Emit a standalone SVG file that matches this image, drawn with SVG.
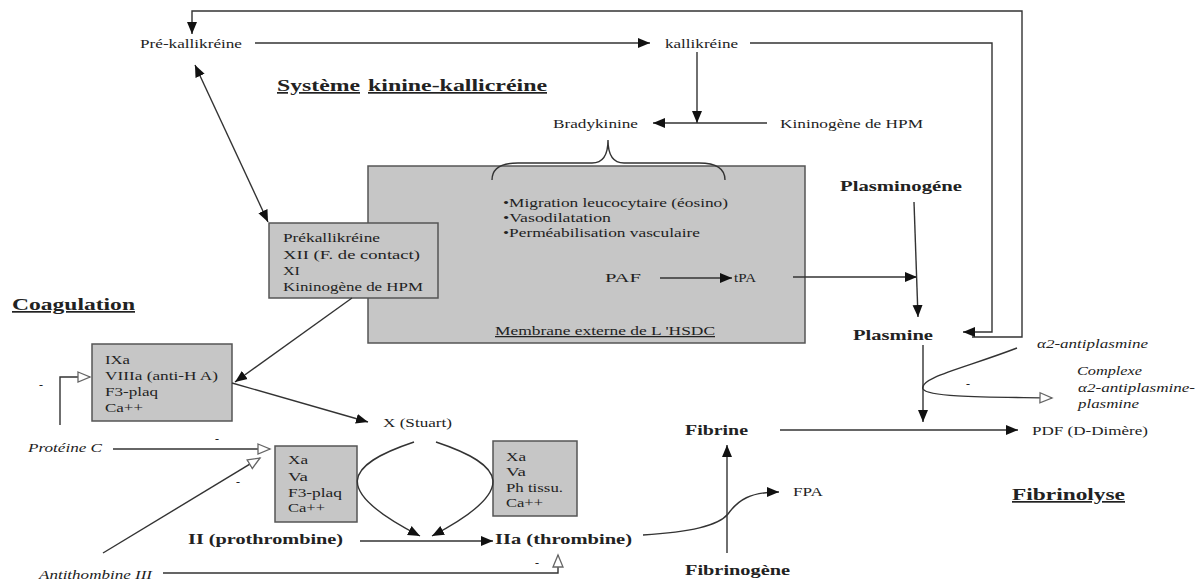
<svg xmlns="http://www.w3.org/2000/svg" width="1202" height="587" viewBox="0 0 1202 587">
<defs>
<style>
text{font-family:"Liberation Serif","Times New Roman",serif;fill:#222;}
.t{font-size:12.5px;}
.b{font-size:15px;font-weight:bold;}
.h{font-size:17px;font-weight:bold;text-decoration:underline;}
.i{font-size:12.5px;font-style:italic;}
.u{text-decoration:underline;}
.box{fill:#c6c6c6;stroke:#555;stroke-width:1.5;}
.ln{fill:none;stroke:#333;stroke-width:1.4;}
.m{font-size:12px;}
</style>
<marker id="arr" markerUnits="userSpaceOnUse" markerWidth="14" markerHeight="12" refX="12" refY="5" orient="auto-start-reverse" viewBox="0 0 14 10">
<path d="M0,0 L12,5 L0,10 Z" fill="#111"/>
</marker>
<marker id="hol" markerUnits="userSpaceOnUse" markerWidth="16" markerHeight="14" refX="13" refY="6" orient="auto" viewBox="0 0 16 12">
<path d="M1,1 L13,6 L1,11 Z" fill="#fff" stroke="#666" stroke-width="1.3"/>
</marker>
</defs>
<rect width="1202" height="587" fill="#fff"/>

<g id="membrane">
<rect class="box" x="368" y="166" width="437" height="177"/>
<text class="t" x="503" y="207" textLength="225" lengthAdjust="spacingAndGlyphs">•Migration leucocytaire (éosino)</text>
<text class="t" x="503" y="222" textLength="108" lengthAdjust="spacingAndGlyphs">•Vasodilatation</text>
<text class="t" x="503" y="237" textLength="197" lengthAdjust="spacingAndGlyphs">•Perméabilisation vasculaire</text>
<text class="t u" x="495" y="335" textLength="220" lengthAdjust="spacingAndGlyphs">Membrane externe de L 'HSDC</text>
</g>
<g id="paf"><text class="t" x="605" y="282" textLength="36" lengthAdjust="spacingAndGlyphs">PAF</text></g>
<g id="tpa"><text class="t" x="734" y="282" textLength="22" lengthAdjust="spacingAndGlyphs">tPA</text></g>

<g id="box-contact">
<rect class="box" x="269" y="223" width="169" height="75"/>
<text class="t" x="283" y="242" textLength="97" lengthAdjust="spacingAndGlyphs">Prékallikréine</text>
<text class="t" x="283" y="259" textLength="137" lengthAdjust="spacingAndGlyphs">XII (F. de contact)</text>
<text class="t" x="283" y="275" textLength="17" lengthAdjust="spacingAndGlyphs">XI</text>
<text class="t" x="283" y="291" textLength="140" lengthAdjust="spacingAndGlyphs">Kininogène de HPM</text>
</g>

<g id="box-tenase">
<rect class="box" x="92" y="344" width="140" height="77"/>
<text class="t" x="105" y="364" textLength="25" lengthAdjust="spacingAndGlyphs">IXa</text>
<text class="t" x="105" y="380" textLength="113" lengthAdjust="spacingAndGlyphs">VIIIa (anti-H A)</text>
<text class="t" x="105" y="396" textLength="53" lengthAdjust="spacingAndGlyphs">F3-plaq</text>
<text class="t" x="105" y="412" textLength="38" lengthAdjust="spacingAndGlyphs">Ca++</text>
</g>

<g id="box-prothrombinase">
<rect class="box" x="275" y="446" width="82" height="76"/>
<text class="t" x="288" y="464" textLength="20" lengthAdjust="spacingAndGlyphs">Xa</text>
<text class="t" x="288" y="481" textLength="20" lengthAdjust="spacingAndGlyphs">Va</text>
<text class="t" x="288" y="497" textLength="54" lengthAdjust="spacingAndGlyphs">F3-plaq</text>
<text class="t" x="288" y="512" textLength="37" lengthAdjust="spacingAndGlyphs">Ca++</text>
</g>

<g id="box-tissue">
<rect class="box" x="493" y="441" width="84" height="75"/>
<text class="t" x="506" y="461" textLength="20" lengthAdjust="spacingAndGlyphs">Xa</text>
<text class="t" x="506" y="476" textLength="20" lengthAdjust="spacingAndGlyphs">Va</text>
<text class="t" x="506" y="492" textLength="57" lengthAdjust="spacingAndGlyphs">Ph tissu.</text>
<text class="t" x="506" y="507" textLength="37" lengthAdjust="spacingAndGlyphs">Ca++</text>
</g>

<g id="labels">
<text class="t" x="140" y="48" textLength="102" lengthAdjust="spacingAndGlyphs">Pré-kallikréine</text>
<text class="t" x="665" y="48" textLength="73" lengthAdjust="spacingAndGlyphs">kallikréine</text>
<text class="h" x="277" y="91" textLength="83" lengthAdjust="spacingAndGlyphs">Système</text>
<text class="h" x="368" y="91" textLength="179" lengthAdjust="spacingAndGlyphs">kinine-kallicréine</text>
<text class="t" x="553" y="128" textLength="85" lengthAdjust="spacingAndGlyphs">Bradykinine</text>
<text class="t" x="780" y="128" textLength="143" lengthAdjust="spacingAndGlyphs">Kininogène de HPM</text>
<text class="b" x="840" y="191" textLength="122" lengthAdjust="spacingAndGlyphs">Plasminogéne</text>
<text class="b" x="853" y="340" textLength="80" lengthAdjust="spacingAndGlyphs">Plasmine</text>
<text class="i" x="1037" y="348" textLength="111" lengthAdjust="spacingAndGlyphs">α2-antiplasmine</text>
<text class="i" x="1077" y="375" textLength="65" lengthAdjust="spacingAndGlyphs">Complexe</text>
<text class="i" x="1078" y="392" textLength="117" lengthAdjust="spacingAndGlyphs">α2-antiplasmine-</text>
<text class="i" x="1078" y="408" textLength="61" lengthAdjust="spacingAndGlyphs">plasmine</text>
<text class="t" x="1032" y="435" textLength="116" lengthAdjust="spacingAndGlyphs">PDF (D-Dimère)</text>
<text class="b" x="685" y="435" textLength="63" lengthAdjust="spacingAndGlyphs">Fibrine</text>
<text class="t" x="793" y="496" textLength="30" lengthAdjust="spacingAndGlyphs">FPA</text>
<text class="h" x="1012" y="500" textLength="113" lengthAdjust="spacingAndGlyphs">Fibrinolyse</text>
<text class="b" x="685" y="575" textLength="105" lengthAdjust="spacingAndGlyphs">Fibrinogène</text>
<text class="b" x="495" y="544" textLength="137" lengthAdjust="spacingAndGlyphs">IIa (thrombine)</text>
<text class="b" x="188" y="544" textLength="155" lengthAdjust="spacingAndGlyphs">II (prothrombine)</text>
<text class="i" x="39" y="579" textLength="113" lengthAdjust="spacingAndGlyphs">Antithombine III</text>
<text class="i" x="28" y="452" textLength="74" lengthAdjust="spacingAndGlyphs">Protéine C</text>
<text class="t" x="383" y="427" textLength="69" lengthAdjust="spacingAndGlyphs">X (Stuart)</text>
<text class="h" x="12" y="310" textLength="123" lengthAdjust="spacingAndGlyphs">Coagulation</text>
<text class="m" x="39" y="389">-</text>
<text class="m" x="215" y="443">-</text>
<text class="m" x="236" y="486">-</text>
<text class="m" x="535" y="567">-</text>
<text class="m" x="966" y="388">-</text>
</g>

<g id="connectors">
<path class="ln" d="M972 337 L1022 337 L1022 11 L192 11 L192 34" marker-end="url(#arr)"/>
<path class="ln" d="M750 43 L992 43 L992 332 L963 332" marker-end="url(#arr)"/>
<path class="ln" d="M255 43 L650 43" marker-end="url(#arr)"/>
<path class="ln" d="M697 52 L697 123" marker-end="url(#arr)"/>
<path class="ln" d="M767 123 L653 123" marker-end="url(#arr)"/>
<path class="ln" d="M492 180 Q492 163 518 163 L592 163 Q608 163 608 140 Q608 163 624 163 L699 163 Q725 163 725 180"/>
<path class="ln" d="M195 65 L268 222" marker-start="url(#arr)" marker-end="url(#arr)"/>
<path class="ln" d="M352 298 L235 382" marker-end="url(#arr)"/>
<path class="ln" d="M232 383 L368 422" marker-end="url(#arr)"/>
<path class="ln" d="M660 278 L732 278" marker-end="url(#arr)"/>
<path class="ln" d="M793 277 L917 277" marker-end="url(#arr)"/>
<path class="ln" d="M914 202 L918 317" marker-end="url(#arr)"/>
<path class="ln" d="M923 345 L923 422" marker-end="url(#arr)"/>
<path class="ln" d="M780 430 L1018 430" marker-end="url(#arr)"/>
<path class="ln" d="M727 553 L727 445" marker-end="url(#arr)"/>
<path class="ln" d="M643 535 C690 532 718 526 728 514 C738 500 750 492 779 492" marker-end="url(#arr)"/>
<path class="ln" d="M1017 348 C965 368 918 378 923 389 C928 398 1000 397 1052 398" marker-end="url(#hol)"/>
<path class="ln" d="M360 541 L493 541" marker-end="url(#arr)"/>
<path class="ln" d="M414 442 C345 465 330 490 420 536" marker-end="url(#arr)"/>
<path class="ln" d="M436 442 C505 465 520 490 432 536" marker-end="url(#arr)"/>
<path class="ln" d="M113 449 L270 449" marker-end="url(#hol)"/>
<path class="ln" d="M103 553 L260 458" marker-end="url(#hol)"/>
<path class="ln" d="M163 573 L558 573 L558 555" marker-end="url(#hol)"/>
<path class="ln" d="M60 425 L60 377 L90 377" marker-end="url(#hol)"/>
</g>
</svg>
